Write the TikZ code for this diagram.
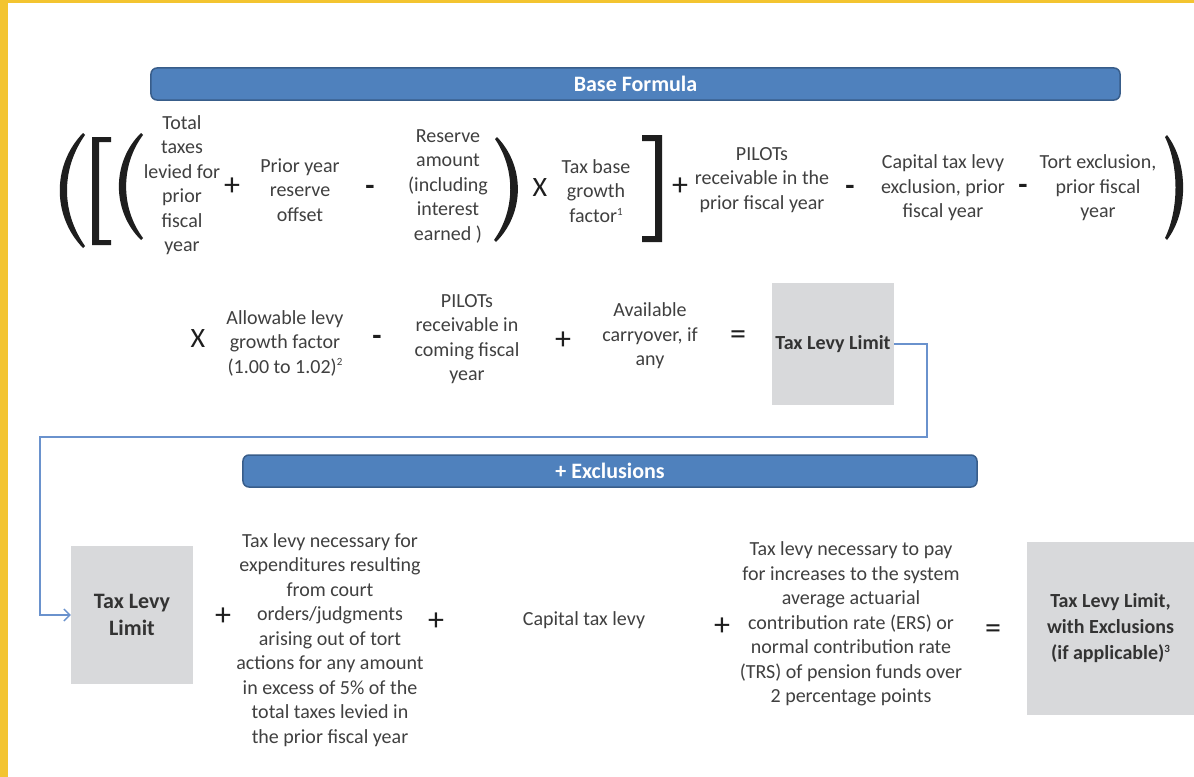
\documentclass[tikz,border=0pt]{standalone}
\usepackage{fontspec}
\setmainfont{Carlito}
\usetikzlibrary{arrows.meta}
\definecolor{ybord}{RGB}{243,196,48}
\definecolor{barfill}{RGB}{79,129,189}
\definecolor{bardraw}{RGB}{56,93,138}
\definecolor{boxgrey}{RGB}{216,217,219}
\definecolor{txt}{RGB}{64,64,64}
\definecolor{opc}{RGB}{30,30,30}
\definecolor{conn}{RGB}{106,146,205}
\newcommand{\supnum}[1]{\raisebox{0.75ex}{\fontsize{11bp}{11bp}\selectfont #1}}
\tikzset{
  term/.style={align=center, text=txt, inner sep=0pt, font=\fontsize{20bp}{24.5bp}\selectfont},
  op/.style={text=opc, inner sep=0pt, font=\fontsize{32bp}{32bp}\selectfont},
  xop/.style={text=opc, inner sep=0pt, font=\fontsize{28bp}{28bp}\selectfont},
  minusop/.style={text=opc, inner sep=0pt, font=\fontsize{30bp}{30bp}\selectfont\bfseries},
  bar/.style={fill=barfill, draw=bardraw, line width=1.5bp, rounded corners=6bp, text=white, inner sep=0pt, font=\fontsize{22bp}{22bp}\selectfont\bfseries},
  greybox/.style={fill=boxgrey, draw=none, inner sep=0pt, align=center, text=black!80, font=\fontsize{20bp}{26bp}\selectfont\bfseries},
  delim/.style={fill=opc},
  link/.style={draw=conn, line width=1.3bp, -{Straight Barb[length=6bp,width=12bp]}},
}
\begin{document}
\begin{tikzpicture}[x=1bp,y=-1bp]
\useasboundingbox (0,0) rectangle (1194,777);
\fill[white] (0,0) rectangle (1194,777);
% yellow frame
\fill[ybord] (0,0) rectangle (1194,3.5);
\fill[ybord] (0,0) rectangle (8.3,777);

% header bars
\node[bar, minimum width=969bp, minimum height=32bp] (basebar) at (635.5,84) {Base Formula};
\node[bar, minimum width=734bp, minimum height=32bp] (exbar) at (610,471) {+ Exclusions};

% delimiters row 1
\fill[delim] (83,133) .. controls (52,165) and (52,216) .. (83,248) -- (85,246) .. controls (61,212) and (61,169) .. (85,135) -- cycle;
\fill[delim] (92,137) -- (111,137) -- (111,142) -- (99,142) -- (99,240) -- (111,240) -- (111,245) -- (92,245) -- cycle;
\fill[delim] (141,133) .. controls (111.5,162) and (111.5,211) .. (141,240) -- (143,238) .. controls (120.5,208) and (120.5,165) .. (143,135) -- cycle;
\fill[delim] (497,137) .. controls (525,166) and (525,213) .. (496,242) -- (494,240) .. controls (515.5,210) and (515.5,169) .. (495,139) -- cycle;
\fill[delim] (642,135) -- (662,135) -- (662,242) -- (642,242) -- (642,236) -- (655,236) -- (655,141) -- (642,141) -- cycle;
\fill[delim] (1167,135) .. controls (1188.5,163) and (1188.5,212) .. (1167,240) -- (1165,238) .. controls (1179,209) and (1179,166) .. (1165,137) -- cycle;

% row 1
\node[term] (t1) at (182,185) {Total\\taxes\\levied for\\prior\\fiscal\\year};
\node[op] (p1) at (232,187) {+};
\node[term] (t2) at (300,190) {Prior year\\reserve\\offset};
\node[minusop] (m1) at (370,190) {-};
\node[term] (t3) at (448,186) {Reserve\\amount\\(including\\interest\\earned )};
\node[xop] (x1) at (540,188) {X};
\node[term] (t4) at (596,191) {Tax base\\growth\\factor\supnum{1}};
\node[op] (p2) at (680,187) {+};
\node[term] (t5) at (762,180) {PILOTs\\receivable in the\\prior fiscal year};
\node[minusop] (m2) at (850,190) {-};
\node[term] (t6) at (943,188) {Capital tax levy\\exclusion, prior\\fiscal year};
\node[minusop] (m3) at (1023,189) {-};
\node[term] (t7) at (1098,188) {Tort exclusion,\\prior fiscal\\year};

% row 2
\node[xop] (x2) at (198,339) {X};
\node[term] (t8) at (285,343) {Allowable levy\\growth factor\\(1.00 to 1.02)\supnum{2}};
\node[minusop] (m4) at (377,340) {-};
\node[term] (t9) at (467,339) {PILOTs\\receivable in\\coming fiscal\\year};
\node[op] (p3) at (563,341) {+};
\node[term] (t10) at (650,336) {Available\\carryover, if\\any};
\node[op] (e1) at (738,338) {=};
\node[greybox, minimum width=122bp, minimum height=122bp] (tll) at (833,344) {Tax Levy Limit};

% row 3
\node[greybox, minimum width=122bp, minimum height=138bp, font=\fontsize{22bp}{27bp}\selectfont\bfseries] (tll2) at (132,615) {Tax Levy\\Limit};
\node[op] (p4) at (223,617) {+};
\node[term] (t11) at (330,640) {Tax levy necessary for\\expenditures resulting\\from court\\orders/judgments\\arising out of tort\\actions for any amount\\in excess of 5\% of the\\total taxes levied in\\the prior fiscal year};
\node[op] (p5) at (436,622) {+};
\node[term] (t12) at (584,620) {Capital tax levy};
\node[op] (p6) at (722,627) {+};
\node[term] (t13) at (851,624) {Tax levy necessary to pay\\for increases to the system\\average actuarial\\contribution rate (ERS) or\\normal contribution rate\\(TRS) of pension funds over\\2 percentage points};
\node[op] (e2) at (993,632) {=};
\node[greybox, minimum width=167bp, minimum height=173bp] (tlle) at (1110.5,628.5) {Tax Levy Limit,\\with Exclusions\\(if applicable)\supnum{3}};

% connector
\coordinate (c1) at (927,437);
\coordinate (c2) at (40,437);
\draw[link] (tll.east) -| (c1) -- (c2) |- (tll2.west);
\end{tikzpicture}
\end{document}
